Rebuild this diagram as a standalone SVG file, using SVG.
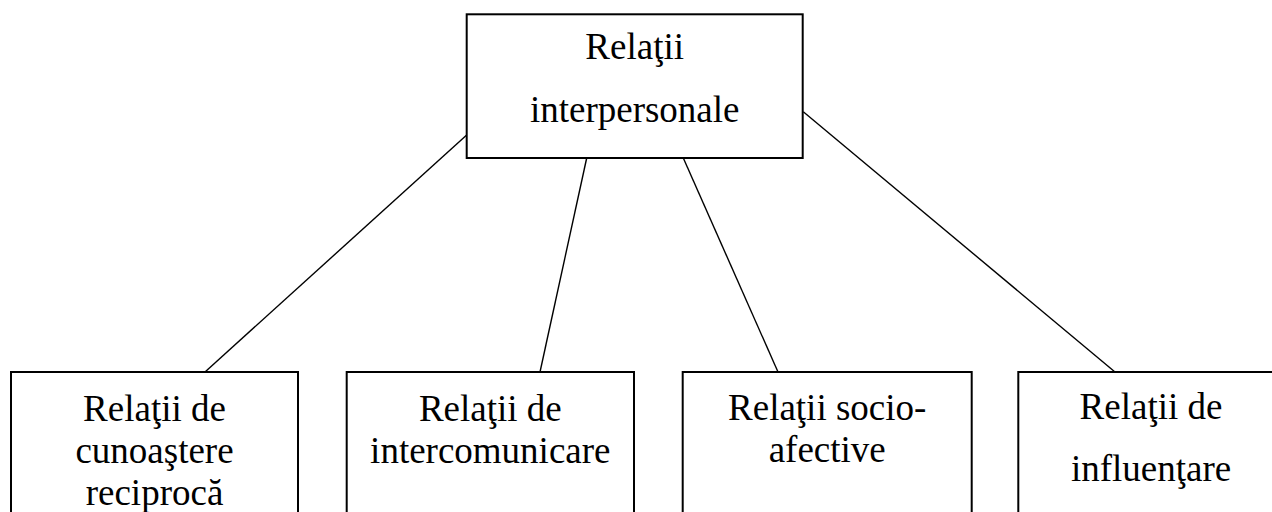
<svg xmlns="http://www.w3.org/2000/svg" width="1272" height="512" viewBox="0 0 1272 512">
<style>
.box{fill:#fff;stroke:#000;stroke-width:2}
.t{font-family:"Liberation Serif","Times New Roman",serif;font-size:37px;fill:#000;text-anchor:middle}
.c{stroke:#000;stroke-width:1.4;fill:none}
</style>
<rect width="1272" height="512" fill="#fff"/>
<g id="connectors">
<line class="c" x1="466.7" y1="135" x2="205" y2="372"/>
<line class="c" x1="586.7" y1="158" x2="540" y2="372"/>
<line class="c" x1="683.3" y1="158" x2="778" y2="372"/>
<line class="c" x1="803.3" y1="111.7" x2="1115" y2="372"/>
</g>
<g id="root">
<rect class="box" x="466.7" y="14.3" width="336" height="143.7"/>
<text class="t" x="634.7" y="59.3">Relaţii</text>
<text class="t" x="634.7" y="121.7">interpersonale</text>
</g>
<g id="n1">
<rect class="box" x="11" y="372" width="287" height="160"/>
<text class="t" x="154.5" y="421">Relaţii de</text>
<text class="t" x="154.5" y="463">cunoaştere</text>
<text class="t" x="154.5" y="505">reciprocă</text>
</g>
<g id="n2">
<rect class="box" x="346.7" y="372" width="287.3" height="160"/>
<text class="t" x="490.3" y="421">Relaţii de</text>
<text class="t" x="490.3" y="463">intercomunicare</text>
</g>
<g id="n3">
<rect class="box" x="682.7" y="372" width="289" height="160"/>
<text class="t" x="827.2" y="420">Relaţii socio-</text>
<text class="t" x="827.2" y="462">afective</text>
</g>
<g id="n4">
<rect class="box" x="1018.3" y="372" width="267" height="160"/>
<text class="t" x="1151" y="418.5">Relaţii de</text>
<text class="t" x="1151" y="481">influenţare</text>
</g>
</svg>
